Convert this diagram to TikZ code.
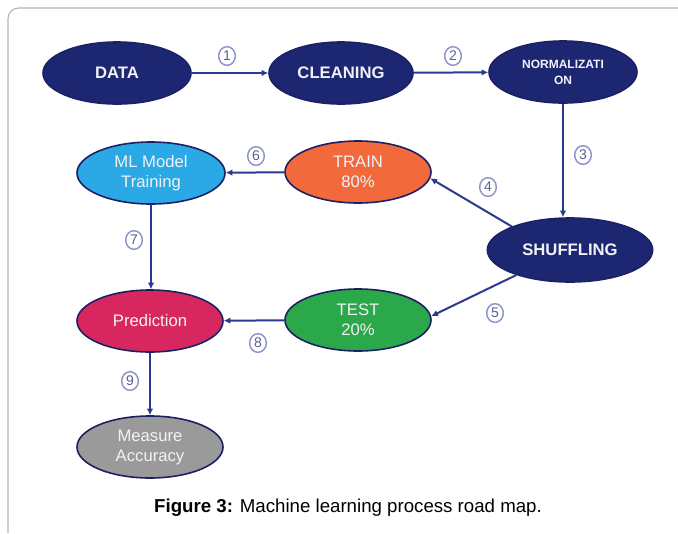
\documentclass[tikz,border=0pt]{standalone}
\usepackage{fontspec}
\setmainfont{Liberation Sans}
\usetikzlibrary{shapes.geometric,arrows.meta}
\definecolor{navy}{HTML}{1D2671}
\definecolor{edgecol}{HTML}{1B2163}
\definecolor{skyb}{HTML}{2BA9E6}
\definecolor{orng}{HTML}{F26A3C}
\definecolor{grn}{HTML}{2AA84A}
\definecolor{crim}{HTML}{D8275F}
\definecolor{gry}{HTML}{9A9A9A}
\definecolor{arrowcol}{HTML}{2B3990}
\definecolor{numcol}{HTML}{8E95C8}
\definecolor{numtext}{HTML}{5A6090}
\definecolor{framecol}{HTML}{B4B4B4}
\definecolor{ntext}{HTML}{F0F2F8}
\begin{document}
\begin{tikzpicture}[x=0.75pt,y=-0.75pt,
  proc/.style={ellipse, draw=edgecol, line width=1.2pt, inner sep=0pt,
    minimum width=109.5pt, minimum height=46.5pt, text=ntext, align=center,
    font=\fontsize{12.5}{15}\selectfont},
  navyproc/.style={proc, fill=navy, font=\bfseries\fontsize{12.5}{15}\selectfont},
  num/.style={ellipse, draw=numcol, line width=1.1pt, fill=white, inner sep=0pt,
    minimum width=12.5pt, minimum height=14pt, text=numtext, font=\fontsize{10.5}{10.5}\selectfont},
  flow/.style={draw=arrowcol, line width=1.5pt, -{Latex[length=5pt,width=5pt]}}]
\useasboundingbox (0,0) rectangle (678,533);
\draw[framecol, line width=0.8pt, rounded corners=8pt] (8,533) -- (8,8) -- (678,8);

\node[navyproc, minimum width=111pt] (data) at (117,73) {DATA};
\node[navyproc, minimum width=108pt] (clean) at (341,73) {CLEANING};
\node[navyproc, minimum width=111pt, font=\bfseries\fontsize{9}{12}\selectfont] (norm) at (563,72) {NORMALIZATI\\ON};
\node[proc, fill=skyb, minimum width=111pt] (ml) at (151,173) {ML Model\\Training};
\node[proc, fill=orng] (train) at (358,172) {TRAIN\\80\%};
\node[navyproc, minimum width=124pt, minimum height=48pt] (shuf) at (570,250) {SHUFFLING};
\node[proc, fill=crim] (pred) at (150,321) {Prediction};
\node[proc, fill=grn] (test) at (358,320) {TEST\\20\%};
\node[proc, fill=gry] (meas) at (150,447) {Measure\\Accuracy};

\draw[flow] (data) -- (clean);
\draw[flow] (clean) -- (norm);
\draw[flow] (norm.south) -- (norm.south |- shuf.north);
\draw[flow] (shuf.158) -- (train.-5);
\draw[flow] (shuf.205) -- (test.3);
\draw[flow] (train) -- (ml);
\draw[flow] (test) -- (pred);
\draw[flow] (ml.south) -- (ml.south |- pred.north);
\draw[flow] (pred) -- (meas);

\node[num] (n1) at (227,56) {1};
\node[num] (n2) at (453,56) {2};
\node[num] (n3) at (583,155) {3};
\node[num] (n4) at (488,187) {4};
\node[num] (n5) at (495,313) {5};
\node[num] (n6) at (256,156) {6};
\node[num] (n7) at (134,240) {7};
\node[num] (n8) at (258,343) {8};
\node[num] (n9) at (130,381) {9};

\node[font=\fontsize{14}{16}\selectfont] (cap) at (348,508) {\textbf{Figure 3:} Machine learning process road map.};
\end{tikzpicture}
\end{document}
